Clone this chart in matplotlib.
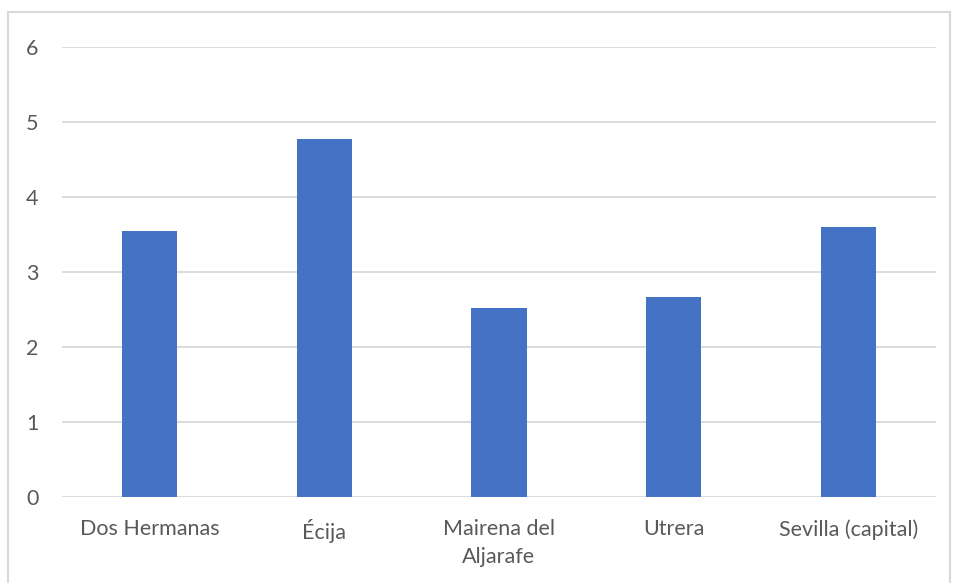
import matplotlib.pyplot as plt
from matplotlib.patches import Rectangle

municipios = ["Dos Hermanas", "Écija", "Mairena del\nAljarafe", "Utrera", "Sevilla (capital)"]
valores = [3.55, 4.77, 2.52, 2.67, 3.60]
yticks = [0, 1, 2, 3, 4, 5, 6]

plt.rcParams["font.family"] = ["Lato", "DejaVu Sans"]

fig = plt.figure(figsize=(9.56, 5.83), dpi=100)
ax = fig.add_axes([62 / 956, 1 - 497 / 583, 874 / 956, 450 / 583])

# light frame around the whole chart
fig.patches.append(Rectangle((8 / 956, -0.05), 942 / 956, 1.05 - 12 / 583,
                             transform=fig.transFigure, fill=False,
                             edgecolor="#d9d9d9", lw=1.5))

x = range(len(municipios))
ax.bar(x, valores, width=0.315, color="#4472C4", zorder=3)

ax.set_xlim(-0.5, len(municipios) - 0.5)
ax.set_ylim(0, 6)
ax.set_yticks(yticks)
ax.set_xticks(list(x))
ax.set_xticklabels(municipios, linespacing=1.5)
ax.grid(axis="y", color="#d9d9d9", lw=1.3, zorder=0)
for s in ax.spines.values():
    s.set_visible(False)
ax.tick_params(length=0, labelsize=15.5, colors="#595959")
ax.tick_params(axis="y", pad=17)
ax.tick_params(axis="x", pad=16)

fig.savefig("out.png", dpi=100)
